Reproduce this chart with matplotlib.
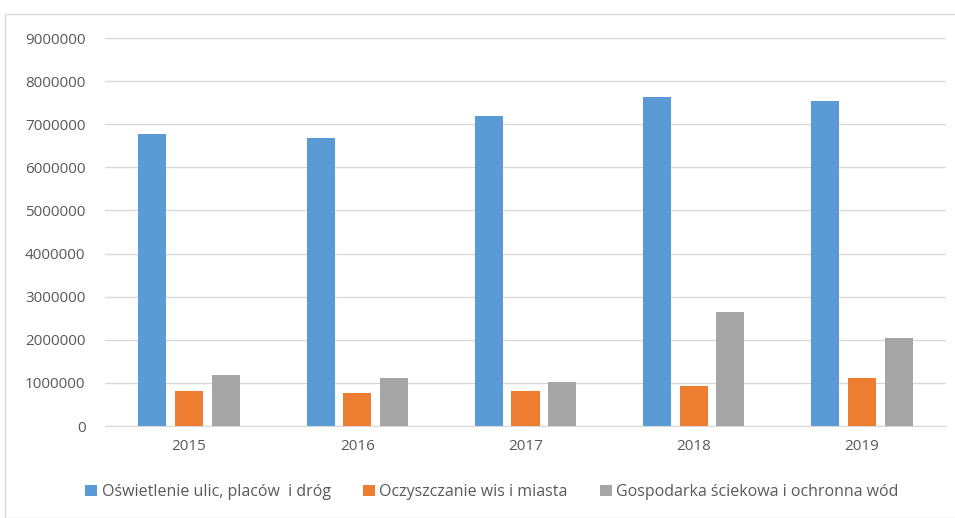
import matplotlib.pyplot as plt
import numpy as np
from matplotlib.patches import Rectangle

years = ["2015", "2016", "2017", "2018", "2019"]
oswietlenie = [6780000, 6670000, 7180000, 7640000, 7550000]
oczyszczanie = [810000, 770000, 810000, 920000, 1110000]
gospodarka = [1180000, 1110000, 1030000, 2640000, 2040000]

labels = ["Oświetlenie ulic, placów  i dróg", "Oczyszczanie wis i miasta",
          "Gospodarka ściekowa i ochronna wód"]
colors = ["#5B9BD5", "#ED7D31", "#A5A5A5"]

plt.rcParams['font.family'] = ['Open Sans', 'DejaVu Sans']
text_color = "#595959"

fig = plt.figure(figsize=(9.55, 5.18), dpi=100)
fig.patches.append(Rectangle((5 / 955, 0), 1, 1 - 14 / 518, transform=fig.transFigure,
                             fill=False, edgecolor="#D9D9D9", linewidth=1))
ax = fig.add_axes([105 / 955, 1 - 426 / 518, 841 / 955, 388 / 518])

x = np.arange(len(years))
w = 0.167
step = 0.218
for i, (vals, lab, col) in enumerate(zip([oswietlenie, oczyszczanie, gospodarka], labels, colors)):
    ax.bar(x + (i - 1) * step, vals, width=w, color=col, label=lab, zorder=3)

ax.set_xlim(-0.5, 4.5)
ax.set_ylim(0, 9000000)
ax.set_yticks(np.arange(0, 9000001, 1000000))
ax.set_yticklabels([str(v) for v in range(0, 9000001, 1000000)])
ax.set_xticks(x)
ax.set_xticklabels(years)
ax.tick_params(length=0, labelsize=11, colors=text_color)
ax.tick_params(axis='y', pad=14)
ax.tick_params(axis='x', pad=9)
ax.yaxis.grid(True, color="#D9D9D9", linewidth=1, zorder=0)
for s in ["top", "right", "left"]:
    ax.spines[s].set_visible(False)
ax.spines["bottom"].set_color("#D9D9D9")

fig.legend(loc="center", bbox_to_anchor=(0.515, 1 - 492 / 518), ncol=3, frameon=False,
           fontsize=11.5, labelcolor=text_color, handlelength=0.75, handleheight=0.75,
           handletextpad=0.3, columnspacing=2.0)

fig.savefig("out.png", dpi=100)
